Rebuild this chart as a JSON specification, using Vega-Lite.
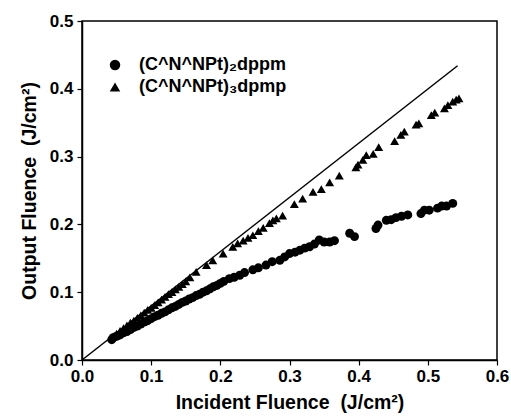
{
  "$schema": "https://vega.github.io/schema/vega-lite/v6.json",
  "width": 415,
  "height": 339,
  "autosize": {"type": "none"},
  "padding": {"left": 82, "top": 21, "right": 14, "bottom": 58},
  "background": "white",
  "config": {
    "font": "Liberation Sans",
    "view": {"stroke": "black", "strokeWidth": 1.5},
    "axis": {
      "domainColor": "black", "domainWidth": 1.5, "tickColor": "black", "tickWidth": 1.2,
      "labelFont": "Liberation Sans", "labelFontWeight": "bold", "labelFontSize": 17, "labelColor": "black",
      "titleFont": "Liberation Sans", "titleFontWeight": "bold", "titleFontSize": 19.5, "titleColor": "black",
      "grid": false
    }
  },
  "datasets": {
    "pts": [
      {"x":0.043,"y":0.030,"s":"(C^N^NPt)₂dppm"},{"x":0.045,"y":0.033,"s":"(C^N^NPt)₂dppm"},{"x":0.05,"y":0.035,"s":"(C^N^NPt)₂dppm"},
      {"x":0.055,"y":0.037,"s":"(C^N^NPt)₂dppm"},{"x":0.06,"y":0.040,"s":"(C^N^NPt)₂dppm"},{"x":0.065,"y":0.042,"s":"(C^N^NPt)₂dppm"},
      {"x":0.07,"y":0.045,"s":"(C^N^NPt)₂dppm"},{"x":0.075,"y":0.048,"s":"(C^N^NPt)₂dppm"},{"x":0.08,"y":0.050,"s":"(C^N^NPt)₂dppm"},
      {"x":0.085,"y":0.053,"s":"(C^N^NPt)₂dppm"},{"x":0.09,"y":0.056,"s":"(C^N^NPt)₂dppm"},{"x":0.095,"y":0.058,"s":"(C^N^NPt)₂dppm"},
      {"x":0.10,"y":0.061,"s":"(C^N^NPt)₂dppm"},{"x":0.105,"y":0.064,"s":"(C^N^NPt)₂dppm"},{"x":0.11,"y":0.066,"s":"(C^N^NPt)₂dppm"},
      {"x":0.115,"y":0.069,"s":"(C^N^NPt)₂dppm"},{"x":0.12,"y":0.071,"s":"(C^N^NPt)₂dppm"},{"x":0.125,"y":0.074,"s":"(C^N^NPt)₂dppm"},
      {"x":0.13,"y":0.077,"s":"(C^N^NPt)₂dppm"},{"x":0.135,"y":0.079,"s":"(C^N^NPt)₂dppm"},{"x":0.14,"y":0.082,"s":"(C^N^NPt)₂dppm"},
      {"x":0.145,"y":0.085,"s":"(C^N^NPt)₂dppm"},{"x":0.15,"y":0.087,"s":"(C^N^NPt)₂dppm"},{"x":0.155,"y":0.090,"s":"(C^N^NPt)₂dppm"},
      {"x":0.16,"y":0.092,"s":"(C^N^NPt)₂dppm"},{"x":0.165,"y":0.095,"s":"(C^N^NPt)₂dppm"},{"x":0.17,"y":0.097,"s":"(C^N^NPt)₂dppm"},
      {"x":0.175,"y":0.100,"s":"(C^N^NPt)₂dppm"},{"x":0.18,"y":0.102,"s":"(C^N^NPt)₂dppm"},{"x":0.185,"y":0.105,"s":"(C^N^NPt)₂dppm"},
      {"x":0.19,"y":0.108,"s":"(C^N^NPt)₂dppm"},{"x":0.195,"y":0.110,"s":"(C^N^NPt)₂dppm"},{"x":0.20,"y":0.113,"s":"(C^N^NPt)₂dppm"},
      {"x":0.205,"y":0.116,"s":"(C^N^NPt)₂dppm"},{"x":0.213,"y":0.120,"s":"(C^N^NPt)₂dppm"},{"x":0.22,"y":0.122,"s":"(C^N^NPt)₂dppm"},
      {"x":0.228,"y":0.125,"s":"(C^N^NPt)₂dppm"},{"x":0.235,"y":0.129,"s":"(C^N^NPt)₂dppm"},{"x":0.247,"y":0.133,"s":"(C^N^NPt)₂dppm"},
      {"x":0.255,"y":0.136,"s":"(C^N^NPt)₂dppm"},{"x":0.266,"y":0.140,"s":"(C^N^NPt)₂dppm"},{"x":0.275,"y":0.145,"s":"(C^N^NPt)₂dppm"},
      {"x":0.286,"y":0.147,"s":"(C^N^NPt)₂dppm"},{"x":0.293,"y":0.152,"s":"(C^N^NPt)₂dppm"},{"x":0.300,"y":0.157,"s":"(C^N^NPt)₂dppm"},
      {"x":0.308,"y":0.159,"s":"(C^N^NPt)₂dppm"},{"x":0.315,"y":0.162,"s":"(C^N^NPt)₂dppm"},{"x":0.322,"y":0.165,"s":"(C^N^NPt)₂dppm"},
      {"x":0.329,"y":0.167,"s":"(C^N^NPt)₂dppm"},{"x":0.336,"y":0.171,"s":"(C^N^NPt)₂dppm"},{"x":0.343,"y":0.177,"s":"(C^N^NPt)₂dppm"},
      {"x":0.350,"y":0.174,"s":"(C^N^NPt)₂dppm"},{"x":0.358,"y":0.174,"s":"(C^N^NPt)₂dppm"},{"x":0.365,"y":0.176,"s":"(C^N^NPt)₂dppm"},
      {"x":0.387,"y":0.187,"s":"(C^N^NPt)₂dppm"},{"x":0.394,"y":0.182,"s":"(C^N^NPt)₂dppm"},{"x":0.425,"y":0.194,"s":"(C^N^NPt)₂dppm"},
      {"x":0.428,"y":0.199,"s":"(C^N^NPt)₂dppm"},{"x":0.44,"y":0.206,"s":"(C^N^NPt)₂dppm"},{"x":0.447,"y":0.207,"s":"(C^N^NPt)₂dppm"},
      {"x":0.454,"y":0.210,"s":"(C^N^NPt)₂dppm"},{"x":0.462,"y":0.212,"s":"(C^N^NPt)₂dppm"},{"x":0.471,"y":0.214,"s":"(C^N^NPt)₂dppm"},
      {"x":0.490,"y":0.216,"s":"(C^N^NPt)₂dppm"},{"x":0.495,"y":0.221,"s":"(C^N^NPt)₂dppm"},{"x":0.502,"y":0.221,"s":"(C^N^NPt)₂dppm"},
      {"x":0.514,"y":0.224,"s":"(C^N^NPt)₂dppm"},{"x":0.520,"y":0.227,"s":"(C^N^NPt)₂dppm"},{"x":0.527,"y":0.227,"s":"(C^N^NPt)₂dppm"},
      {"x":0.536,"y":0.231,"s":"(C^N^NPt)₂dppm"},
      {"x":0.045,"y":0.035,"s":"(C^N^NPt)₃dpmp"},{"x":0.05,"y":0.039,"s":"(C^N^NPt)₃dpmp"},{"x":0.055,"y":0.043,"s":"(C^N^NPt)₃dpmp"},
      {"x":0.06,"y":0.047,"s":"(C^N^NPt)₃dpmp"},{"x":0.065,"y":0.051,"s":"(C^N^NPt)₃dpmp"},{"x":0.07,"y":0.055,"s":"(C^N^NPt)₃dpmp"},
      {"x":0.075,"y":0.058,"s":"(C^N^NPt)₃dpmp"},{"x":0.08,"y":0.062,"s":"(C^N^NPt)₃dpmp"},{"x":0.085,"y":0.066,"s":"(C^N^NPt)₃dpmp"},
      {"x":0.09,"y":0.070,"s":"(C^N^NPt)₃dpmp"},{"x":0.095,"y":0.074,"s":"(C^N^NPt)₃dpmp"},{"x":0.10,"y":0.077,"s":"(C^N^NPt)₃dpmp"},
      {"x":0.105,"y":0.081,"s":"(C^N^NPt)₃dpmp"},{"x":0.11,"y":0.085,"s":"(C^N^NPt)₃dpmp"},{"x":0.115,"y":0.089,"s":"(C^N^NPt)₃dpmp"},
      {"x":0.12,"y":0.093,"s":"(C^N^NPt)₃dpmp"},{"x":0.125,"y":0.097,"s":"(C^N^NPt)₃dpmp"},{"x":0.13,"y":0.100,"s":"(C^N^NPt)₃dpmp"},
      {"x":0.135,"y":0.104,"s":"(C^N^NPt)₃dpmp"},{"x":0.14,"y":0.108,"s":"(C^N^NPt)₃dpmp"},{"x":0.145,"y":0.112,"s":"(C^N^NPt)₃dpmp"},
      {"x":0.15,"y":0.116,"s":"(C^N^NPt)₃dpmp"},{"x":0.156,"y":0.122,"s":"(C^N^NPt)₃dpmp"},{"x":0.165,"y":0.130,"s":"(C^N^NPt)₃dpmp"},
      {"x":0.180,"y":0.140,"s":"(C^N^NPt)₃dpmp"},{"x":0.189,"y":0.147,"s":"(C^N^NPt)₃dpmp"},{"x":0.204,"y":0.157,"s":"(C^N^NPt)₃dpmp"},
      {"x":0.218,"y":0.167,"s":"(C^N^NPt)₃dpmp"},{"x":0.225,"y":0.172,"s":"(C^N^NPt)₃dpmp"},{"x":0.233,"y":0.176,"s":"(C^N^NPt)₃dpmp"},
      {"x":0.240,"y":0.180,"s":"(C^N^NPt)₃dpmp"},{"x":0.247,"y":0.184,"s":"(C^N^NPt)₃dpmp"},{"x":0.255,"y":0.190,"s":"(C^N^NPt)₃dpmp"},
      {"x":0.262,"y":0.195,"s":"(C^N^NPt)₃dpmp"},{"x":0.271,"y":0.202,"s":"(C^N^NPt)₃dpmp"},{"x":0.276,"y":0.206,"s":"(C^N^NPt)₃dpmp"},
      {"x":0.281,"y":0.209,"s":"(C^N^NPt)₃dpmp"},{"x":0.290,"y":0.213,"s":"(C^N^NPt)₃dpmp"},{"x":0.307,"y":0.230,"s":"(C^N^NPt)₃dpmp"},
      {"x":0.319,"y":0.238,"s":"(C^N^NPt)₃dpmp"},{"x":0.334,"y":0.248,"s":"(C^N^NPt)₃dpmp"},{"x":0.346,"y":0.252,"s":"(C^N^NPt)₃dpmp"},
      {"x":0.358,"y":0.262,"s":"(C^N^NPt)₃dpmp"},{"x":0.372,"y":0.272,"s":"(C^N^NPt)₃dpmp"},{"x":0.396,"y":0.284,"s":"(C^N^NPt)₃dpmp"},
      {"x":0.399,"y":0.288,"s":"(C^N^NPt)₃dpmp"},{"x":0.406,"y":0.295,"s":"(C^N^NPt)₃dpmp"},{"x":0.411,"y":0.302,"s":"(C^N^NPt)₃dpmp"},
      {"x":0.421,"y":0.304,"s":"(C^N^NPt)₃dpmp"},{"x":0.429,"y":0.314,"s":"(C^N^NPt)₃dpmp"},{"x":0.452,"y":0.323,"s":"(C^N^NPt)₃dpmp"},
      {"x":0.461,"y":0.332,"s":"(C^N^NPt)₃dpmp"},{"x":0.466,"y":0.337,"s":"(C^N^NPt)₃dpmp"},{"x":0.483,"y":0.347,"s":"(C^N^NPt)₃dpmp"},
      {"x":0.487,"y":0.349,"s":"(C^N^NPt)₃dpmp"},{"x":0.505,"y":0.361,"s":"(C^N^NPt)₃dpmp"},{"x":0.510,"y":0.365,"s":"(C^N^NPt)₃dpmp"},
      {"x":0.524,"y":0.371,"s":"(C^N^NPt)₃dpmp"},{"x":0.529,"y":0.376,"s":"(C^N^NPt)₃dpmp"},{"x":0.536,"y":0.381,"s":"(C^N^NPt)₃dpmp"},
      {"x":0.541,"y":0.384,"s":"(C^N^NPt)₃dpmp"},{"x":0.545,"y":0.386,"s":"(C^N^NPt)₃dpmp"}
    ],
    "lin": [{"x":0.0,"y":0.0},{"x":0.543,"y":0.434}]
  },
  "layer": [
    {
      "data": {"name": "lin"},
      "mark": {"type": "line", "color": "black", "strokeWidth": 1.5},
      "encoding": {
        "x": {"field": "x", "type": "quantitative",
              "scale": {"domain": [0, 0.6], "nice": false},
              "axis": {"values": [0,0.05,0.1,0.15,0.2,0.25,0.3,0.35,0.4,0.45,0.5,0.55,0.6],
                       "labelExpr": "(round(datum.value*100) % 10 == 0) ? format(datum.value, '.1f') : ''",
                       "tickSize": {"condition": {"test": "round(datum.value*100) % 10 != 0", "value": 3}, "value": 5},
                       "labelPadding": 3, "labelFlush": false, "labelOverlap": false,
                       "title": "Incident Fluence \u00a0(J/cm²)", "titlePadding": 9}},
        "y": {"field": "y", "type": "quantitative",
              "scale": {"domain": [0, 0.5], "nice": false},
              "axis": {"values": [0,0.05,0.1,0.15,0.2,0.25,0.3,0.35,0.4,0.45,0.5],
                       "labelExpr": "(round(datum.value*100) % 10 == 0) ? format(datum.value, '.1f') : ''",
                       "tickSize": {"condition": {"test": "round(datum.value*100) % 10 != 0", "value": 3}, "value": 5},
                       "labelPadding": 4, "labelFlush": false, "labelOverlap": false,
                       "title": "Output Fluence \u00a0(J/cm²)", "titlePadding": 10}}
      }
    },
    {
      "data": {"name": "pts"},
      "mark": {"type": "point", "filled": true, "color": "black", "opacity": 1, "size": 80},
      "encoding": {
        "x": {"field": "x", "type": "quantitative"},
        "y": {"field": "y", "type": "quantitative"},
        "shape": {"field": "s", "type": "nominal",
                  "scale": {"domain": ["(C^N^NPt)₂dppm", "(C^N^NPt)₃dpmp"], "range": ["circle", "triangle-up"]},
                  "legend": {"title": null, "orient": "none", "legendX": 24, "legendY": 35,
                             "symbolSize": 110, "symbolFillColor": "black", "symbolStrokeColor": "black",
                             "symbolType": "circle",
                             "labelFont": "Liberation Sans", "labelFontWeight": "bold", "labelFontSize": 18,
                             "labelColor": "black", "labelOffset": 15, "rowPadding": 4, "padding": 0}}
      }
    },
    {
      "mark": {"type": "text", "font": "Liberation Sans", "fontSize": 18, "align": "left", "baseline": "alphabetic", "color": "black"},
      "encoding": {"x": {"datum": 0.463}, "y": {"datum": 0.454}, "text": {"value": "T"}}
    },
    {
      "mark": {"type": "text", "font": "Liberation Sans", "fontSize": 9, "align": "left", "baseline": "alphabetic", "color": "black"},
      "encoding": {"x": {"datum": 0.479}, "y": {"datum": 0.448}, "text": {"value": "lin"}}
    },
    {
      "mark": {"type": "text", "font": "Liberation Sans", "fontSize": 18, "align": "left", "baseline": "alphabetic", "color": "black"},
      "encoding": {"x": {"datum": 0.503}, "y": {"datum": 0.454}, "text": {"value": "= 80%"}}
    }
  ]
}
